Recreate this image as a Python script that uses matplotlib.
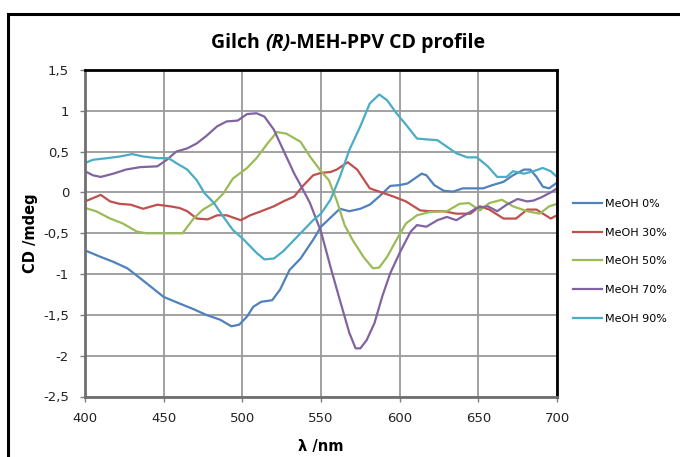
import matplotlib
matplotlib.use("Agg")
import matplotlib.pyplot as plt
from matplotlib.patches import Rectangle

# CD profiles (wavelength nm, CD mdeg)
wl0 = [400, 410, 418, 427, 435, 450, 460, 469, 477, 486, 493, 498,
       503, 507, 512, 519, 524, 530, 537, 545, 550, 556, 562, 568,
       575, 581, 587, 594, 600, 605, 611, 614, 617, 622, 628, 634,
       640, 647, 653, 659, 666, 672, 679, 683, 687, 691, 695, 700]
cd0 = [-0.71, -0.79, -0.85, -0.93, -1.05, -1.28, -1.36, -1.43, -1.50, -1.56, -1.64, -1.62,
       -1.52, -1.40, -1.34, -1.32, -1.19, -0.95, -0.81, -0.58, -0.42, -0.31, -0.20, -0.23,
       -0.20, -0.15, -0.05, 0.08, 0.09, 0.11, 0.19, 0.23, 0.21, 0.09, 0.02, 0.01,
       0.05, 0.05, 0.05, 0.09, 0.13, 0.21, 0.28, 0.28, 0.19, 0.07, 0.05, 0.12]

wl30 = [400, 410, 416, 422, 429, 437, 446, 454, 460, 465, 471, 478,
        484, 490, 499, 505, 512, 520, 526, 533, 539, 545, 550, 556,
        560, 567, 573, 581, 590, 596, 604, 613, 619, 628, 636, 645,
        651, 657, 666, 674, 681, 687, 696, 700]
cd30 = [-0.11, -0.03, -0.11, -0.14, -0.15, -0.20, -0.15, -0.17, -0.19, -0.23, -0.32, -0.33,
        -0.28, -0.28, -0.34, -0.28, -0.23, -0.17, -0.11, -0.05, 0.09, 0.21, 0.24, 0.25,
        0.28, 0.37, 0.28, 0.05, -0.01, -0.05, -0.11, -0.22, -0.23, -0.23, -0.26, -0.26,
        -0.17, -0.21, -0.32, -0.32, -0.21, -0.21, -0.32, -0.28]

wl50 = [400, 407, 416, 424, 433, 439, 462, 469, 475, 482, 488, 494,
        503, 509, 516, 522, 528, 537, 543, 550, 555, 560, 565, 570,
        577, 583, 587, 592, 598, 604, 611, 619, 630, 638, 644, 651,
        657, 665, 672, 681, 689, 695, 700]
cd50 = [-0.19, -0.23, -0.32, -0.38, -0.48, -0.50, -0.50, -0.32, -0.21, -0.13, -0.01, 0.17,
        0.30, 0.42, 0.60, 0.74, 0.72, 0.62, 0.44, 0.26, 0.15, -0.10, -0.40, -0.58,
        -0.79, -0.93, -0.92, -0.79, -0.58, -0.38, -0.28, -0.24, -0.23, -0.14, -0.13, -0.22,
        -0.13, -0.09, -0.17, -0.23, -0.26, -0.17, -0.14]

wl70 = [400, 405, 410, 418, 426, 435, 446, 452, 458, 465, 471, 477,
        484, 490, 497, 503, 509, 514, 520, 526, 533, 537, 543, 550,
        556, 562, 568, 572, 575, 579, 584, 589, 594, 600, 607, 611,
        617, 624, 630, 636, 643, 649, 656, 662, 668, 675, 681, 685,
        690, 696, 700]
cd70 = [0.26, 0.21, 0.19, 0.23, 0.28, 0.31, 0.32, 0.40, 0.50, 0.54, 0.60, 0.69,
        0.81, 0.87, 0.88, 0.96, 0.97, 0.93, 0.77, 0.52, 0.23, 0.09, -0.13, -0.48,
        -0.91, -1.32, -1.72, -1.91, -1.91, -1.81, -1.60, -1.27, -0.99, -0.74, -0.48, -0.40,
        -0.42, -0.34, -0.30, -0.34, -0.26, -0.19, -0.17, -0.23, -0.15, -0.08, -0.11, -0.10,
        -0.06, 0.00, 0.05]

wl90 = [400, 405, 414, 422, 430, 437, 446, 453, 458, 465, 471, 476,
        482, 488, 494, 501, 509, 514, 520, 526, 533, 539, 545, 550,
        556, 562, 568, 575, 581, 587, 592, 598, 604, 611, 617, 624,
        630, 636, 643, 649, 656, 662, 668, 672, 679, 685, 691, 696,
        700]
cd90 = [0.36, 0.40, 0.42, 0.44, 0.47, 0.44, 0.42, 0.42, 0.36, 0.28, 0.15, -0.01,
        -0.13, -0.30, -0.46, -0.58, -0.74, -0.82, -0.81, -0.72, -0.58, -0.46, -0.34, -0.26,
        -0.09, 0.19, 0.52, 0.81, 1.09, 1.20, 1.13, 0.97, 0.83, 0.66, 0.65, 0.64,
        0.56, 0.48, 0.43, 0.43, 0.32, 0.19, 0.19, 0.26, 0.23, 0.26, 0.30, 0.26,
        0.19]

labels = ['MeOH 0%', 'MeOH 30%', 'MeOH 50%', 'MeOH 70%', 'MeOH 90%']
colors = ['#4F81BD', '#C0504D', '#9BBB59', '#8064A2', '#4BACC6']

x_ticks = [400, 450, 500, 550, 600, 650, 700]
y_ticks = [1.5, 1, 0.5, 0, -0.5, -1, -1.5, -2, -2.5]
y_tick_labels = ['1,5', '1', '0,5', '0', '-0,5', '-1', '-1,5', '-2', '-2,5']

W, H = 680, 457
fig = plt.figure(figsize=(W / 100, H / 100), dpi=100)

# outer chart frame
fig.patches.append(Rectangle((8 / W, -0.1), 1.2, 1.1 - 14 / H, transform=fig.transFigure,
                             fill=False, edgecolor='black', linewidth=2.2))

ax = fig.add_axes([85 / W, 1 - 396.5 / H, 472 / W, 326.5 / H])

series = [(wl0, cd0), (wl30, cd30), (wl50, cd50), (wl70, cd70), (wl90, cd90)]
for (wl, cd), lbl, col in zip(series, labels, colors):
    ax.plot(wl, cd, color=col, linewidth=1.6, label=lbl)

ax.set_xlim(400, 700)
ax.set_ylim(-2.5, 1.5)
ax.set_xticks(x_ticks)
ax.set_yticks(y_ticks)
ax.set_yticklabels(y_tick_labels)
ax.grid(True, color='#9a9a9a', linewidth=1.3)
ax.set_axisbelow(True)
ax.tick_params(direction='out', length=3.5, width=1, color='#7f7f7f', labelsize=9.5,
               pad=8, labelcolor='#222222')
for side in ['top', 'right']:
    ax.spines[side].set_color('black')
    ax.spines[side].set_linewidth(2)
for side in ['left', 'bottom']:
    ax.spines[side].set_color('#6f6f6f')
    ax.spines[side].set_linewidth(2)

ax.set_xlabel('λ /nm', fontsize=10.5, fontweight='bold', labelpad=10)
ax.set_ylabel('CD /mdeg', fontsize=10.5, fontweight='bold', labelpad=4)

leg = ax.legend(loc='upper left', bbox_to_anchor=(563 / W, 1 - 189 / H),
                bbox_transform=fig.transFigure, frameon=False, fontsize=8,
                handlelength=2.6, handletextpad=0.3, labelspacing=1.68)

# title with italic (R)
parts = [('Gilch ', 'normal'), ('(R)', 'italic'), ('-MEH-PPV CD profile', 'normal')]
r = fig.canvas.get_renderer()
texts = [fig.text(0, 1 - 43 / H, s, style=st, fontsize=14, fontweight='bold',
                  family='Open Sans', va='center') for s, st in parts]
widths = [t.get_window_extent(r).width for t in texts]
x = 348 - sum(widths) / 2
for t, w in zip(texts, widths):
    t.set_x(x / W)
    x += w

fig.savefig('out.png', dpi=100)
